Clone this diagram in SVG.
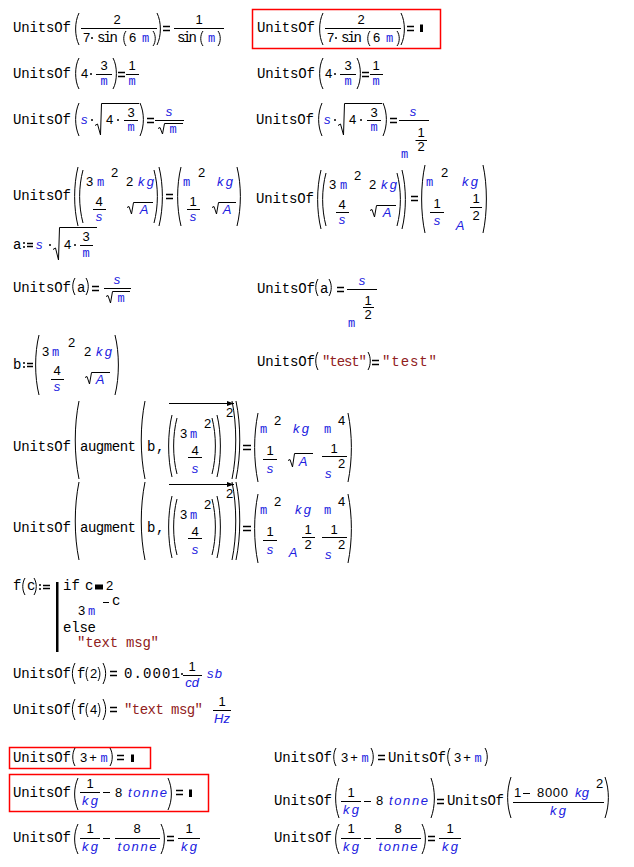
<svg xmlns="http://www.w3.org/2000/svg" width="634" height="867" viewBox="0 0 634 867">
<style>
.v{font-family:"Liberation Mono",monospace;font-size:14px;fill:#000}
.n{font-family:"Liberation Sans",Arial,sans-serif;font-size:13px;fill:#000}
.m{font-family:"Liberation Mono",monospace;font-size:12px;fill:#2020e0}
.u{font-family:"Liberation Sans",Arial,sans-serif;font-style:italic;font-size:13px;fill:#2020e0}
.s{font-family:"Liberation Mono",monospace;font-size:14px;fill:#902020}
.p{fill:none;stroke:#000;stroke-width:1}
.l{fill:none;stroke:#000;stroke-width:1}
.q{fill:none;stroke:#000;stroke-width:1.3}
.box{fill:none;stroke:#f00;stroke-width:1.5}
.c{text-anchor:middle}
</style>
<defs>
<marker id="ah" markerWidth="8" markerHeight="6" refX="7" refY="3" orient="auto" markerUnits="userSpaceOnUse"><path d="M0 0.5L7 3L0 5.5z" fill="#000"/></marker>
</defs>
<rect width="634" height="867" fill="#fff"/>

<g id="e1">
<text class="v" x="13" y="32" textLength="58">UnitsOf</text>
<path class="p" d="M79 13C74.5 22 74.5 36 79 45"/>
<text class="n c" x="117" y="24">2</text>
<path class="l" d="M81 28.5H157"/>
<text class="n" x="83" y="42">7</text>
<circle cx="92" cy="38" r="1"/>
<text class="v" x="97" y="42" textLength="21">sin</text>
<path class="p" d="M126 31C123 35 123 42 126 46"/>
<text class="n" x="129" y="42">6</text>
<text class="m" x="142" y="42">m</text>
<path class="p" d="M153 31C156 35 156 42 153 46"/>
<path class="p" d="M157 13C161.5 22 161.5 36 157 45"/>
<path class="q" d="M163 26.5h7M163 30.5h7"/>
<text class="n c" x="199" y="24">1</text>
<path class="l" d="M174 28.5H224"/>
<text class="v" x="177" y="42" textLength="20">sin</text>
<path class="p" d="M203 31C200 35 200 42 203 46"/>
<text class="m" x="208" y="42">m</text>
<path class="p" d="M218 31C221 35 221 42 218 46"/>
</g>

<g id="e2">
<rect class="box" x="252.5" y="9.5" width="188" height="39"/>
<g transform="translate(244,0)">
<text class="v" x="13" y="32" textLength="58">UnitsOf</text>
<path class="p" d="M79 13C74.5 22 74.5 36 79 45"/>
<text class="n c" x="117" y="24">2</text>
<path class="l" d="M81 28.5H157"/>
<text class="n" x="83" y="42">7</text>
<circle cx="92" cy="38" r="1"/>
<text class="v" x="97" y="42" textLength="21">sin</text>
<path class="p" d="M126 31C123 35 123 42 126 46"/>
<text class="n" x="129" y="42">6</text>
<text class="m" x="142" y="42">m</text>
<path class="p" d="M153 31C156 35 156 42 153 46"/>
<path class="p" d="M157 13C161.5 22 161.5 36 157 45"/>
<path class="q" d="M163 26.5h7M163 30.5h7"/>
</g>
<rect x="420" y="24.5" width="3" height="7.5" fill="#000"/>
</g>

<g id="e3">
<text class="v" x="13" y="78" textLength="58">UnitsOf</text>
<path class="p" d="M79 58C74.5 66 74.5 81 79 89"/>
<text class="n" x="81" y="78">4</text>
<circle cx="91" cy="74" r="1"/>
<text class="n c" x="104" y="70">3</text>
<path class="l" d="M96 74.5H112"/>
<text class="m c" x="104" y="85">m</text>
<path class="p" d="M113 58C117.5 66 117.5 81 113 89"/>
<path class="q" d="M118 72.5h7M118 76.5h7"/>
<text class="n c" x="132" y="70">1</text>
<path class="l" d="M126 74.5H139"/>
<text class="m c" x="132" y="85">m</text>
</g>

<g id="e4" transform="translate(244,0)">
<text class="v" x="13" y="78" textLength="58">UnitsOf</text>
<path class="p" d="M79 58C74.5 66 74.5 81 79 89"/>
<text class="n" x="81" y="78">4</text>
<circle cx="91" cy="74" r="1"/>
<text class="n c" x="104" y="70">3</text>
<path class="l" d="M96 74.5H112"/>
<text class="m c" x="104" y="85">m</text>
<path class="p" d="M113 58C117.5 66 117.5 81 113 89"/>
<path class="q" d="M118 72.5h7M118 76.5h7"/>
<text class="n c" x="132" y="70">1</text>
<path class="l" d="M126 74.5H139"/>
<text class="m c" x="132" y="85">m</text>
</g>

<g id="e5">
<text class="v" x="13" y="124" textLength="58">UnitsOf</text>
<path class="p" d="M79 103C74.5 113 74.5 126 79 136"/>
<text class="u" x="81" y="124">s</text>
<circle cx="92" cy="120" r="1"/>
<path class="l" d="M95 125.5L97.5 124L100.5 135L101.5 103.5H139"/>
<text class="n" x="106" y="124">4</text>
<circle cx="118" cy="120" r="1"/>
<text class="n c" x="131" y="117">3</text>
<path class="l" d="M124 120.5H138"/>
<text class="m c" x="131" y="131">m</text>
<path class="p" d="M140 103C144.5 113 144.5 126 140 136"/>
<path class="q" d="M147 118.5h7M147 122.5h7"/>
<text class="u c" x="169" y="116">s</text>
<path class="l" d="M155 120.5H184"/>
<path class="l" d="M158 128.5L160 127.5L162.5 134L164.5 123.5H183"/>
<text class="m c" x="173" y="133">m</text>
</g>

<g id="e6">
<g transform="translate(243,0)">
<text class="v" x="13" y="124" textLength="58">UnitsOf</text>
<path class="p" d="M79 103C74.5 113 74.5 126 79 136"/>
<text class="u" x="81" y="124">s</text>
<circle cx="92" cy="120" r="1"/>
<path class="l" d="M95 125.5L97.5 124L100.5 135L101.5 103.5H139"/>
<text class="n" x="106" y="124">4</text>
<circle cx="118" cy="120" r="1"/>
<text class="n c" x="131" y="117">3</text>
<path class="l" d="M124 120.5H138"/>
<text class="m c" x="131" y="131">m</text>
<path class="p" d="M140 103C144.5 113 144.5 126 140 136"/>
<path class="q" d="M147 118.5h7M147 122.5h7"/>
</g>
<text class="u c" x="413" y="116">s</text>
<path class="l" d="M399 120.5H429"/>
<text class="m" x="401" y="158">m</text>
<text class="n c" x="421" y="137">1</text>
<path class="l" d="M415.5 140.5H427"/>
<text class="n c" x="421" y="151">2</text>
</g>

<g id="e7">
<text class="v" x="13" y="200" textLength="58">UnitsOf</text>
<path class="p" d="M78 167C73.5 185 73.5 208 78 226"/>
<path class="p" d="M83 170C78.5 187 78.5 206 83 223"/>
<text class="n" x="86" y="186">3</text>
<text class="m" x="97" y="186">m</text>
<text class="n" x="111" y="177">2</text>
<text class="n" x="126" y="186">2</text>
<text class="u" x="138" y="186" textLength="16">kg</text>
<text class="n c" x="99" y="206">4</text>
<path class="l" d="M93 209.5H106"/>
<text class="u c" x="99" y="221">s</text>
<path class="l" d="M127 207.5L129 206.5L131.5 214L133.5 202.5H153"/>
<text class="u c" x="144" y="214">A</text>
<path class="p" d="M154 170C158.5 187 158.5 206 154 223"/>
<path class="p" d="M159 167C163.5 185 163.5 208 159 226"/>
<path class="q" d="M166 194.5h7M166 198.5h7"/>
<path class="p" d="M181 167C176.5 185 176.5 208 181 226"/>
<text class="m" x="183" y="186">m</text>
<text class="n" x="198" y="177">2</text>
<text class="u" x="217" y="186" textLength="16">kg</text>
<text class="n c" x="193" y="206">1</text>
<path class="l" d="M187 209.5H200"/>
<text class="u c" x="193" y="221">s</text>
<path class="l" d="M212 207.5L214 206.5L216.5 214L218.5 202.5H236"/>
<text class="u c" x="227" y="214">A</text>
<path class="p" d="M237 167C241.5 185 241.5 208 237 226"/>
</g>

<g id="e8">
<g transform="translate(243,3)">
<text class="v" x="13" y="200" textLength="58">UnitsOf</text>
<path class="p" d="M78 167C73.5 185 73.5 208 78 226"/>
<path class="p" d="M83 170C78.5 187 78.5 206 83 223"/>
<text class="n" x="86" y="186">3</text>
<text class="m" x="97" y="186">m</text>
<text class="n" x="111" y="177">2</text>
<text class="n" x="126" y="186">2</text>
<text class="u" x="138" y="186" textLength="16">kg</text>
<text class="n c" x="99" y="206">4</text>
<path class="l" d="M93 209.5H106"/>
<text class="u c" x="99" y="221">s</text>
<path class="l" d="M127 207.5L129 206.5L131.5 214L133.5 202.5H153"/>
<text class="u c" x="144" y="214">A</text>
<path class="p" d="M154 170C158.5 187 158.5 206 154 223"/>
<path class="p" d="M159 167C163.5 185 163.5 208 159 226"/>
</g>
<path class="q" d="M411 196.5h7M411 200.5h7"/>
<path class="p" d="M425 165C420.5 185 420.5 213 425 233"/>
<text class="m" x="426" y="186">m</text>
<text class="n" x="441" y="177">2</text>
<text class="u" x="462" y="186" textLength="16">kg</text>
<text class="n c" x="437" y="208">1</text>
<path class="l" d="M430 212.5H444"/>
<text class="u c" x="437" y="225">s</text>
<text class="u c" x="460" y="230">A</text>
<text class="n c" x="476" y="203">1</text>
<path class="l" d="M470 207.5H482"/>
<text class="n c" x="476" y="220">2</text>
<path class="p" d="M483 165C487.5 185 487.5 213 483 233"/>
</g>

<g id="e9">
<text class="v" x="13" y="249">a</text>
<circle cx="24" cy="243" r="1"/>
<circle cx="24" cy="247" r="1"/>
<path class="q" d="M27 243.5h6M27 246.5h6"/>
<text class="u" x="36" y="249">s</text>
<circle cx="50" cy="245" r="1"/>
<path class="l" d="M53 249.5L55.5 248L58.5 260L59.5 227.5H97"/>
<text class="n" x="64" y="249">4</text>
<circle cx="75" cy="245" r="1"/>
<text class="n c" x="86" y="241">3</text>
<path class="l" d="M80 245.5H93"/>
<text class="m c" x="86" y="257">m</text>
</g>

<g id="e10">
<text class="v" x="13" y="292" textLength="58">UnitsOf</text>
<path class="p" d="M75 278C72 283 72 290 75 295"/>
<text class="v" x="77" y="292">a</text>
<path class="p" d="M86 278C89 283 89 290 86 295"/>
<path class="q" d="M92 286.5h7M92 290.5h7"/>
<text class="u c" x="117" y="284">s</text>
<path class="l" d="M104 288.5H131"/>
<path class="l" d="M106 296.5L108 295.5L110.5 303L112.5 291.5H130"/>
<text class="m c" x="121" y="302">m</text>
</g>

<g id="e11">
<text class="v" x="257" y="293" textLength="58">UnitsOf</text>
<path class="p" d="M318 279C315 284 315 291 318 296"/>
<text class="v" x="320" y="293">a</text>
<path class="p" d="M329 279C332 284 332 291 329 296"/>
<path class="q" d="M337 287.5h7M337 291.5h7"/>
<text class="u c" x="362" y="285">s</text>
<path class="l" d="M347 289.5H377"/>
<text class="m" x="348" y="327">m</text>
<text class="n c" x="368" y="305">1</text>
<path class="l" d="M363 307.5H374"/>
<text class="n c" x="368" y="319">2</text>
</g>

<g id="e12">
<text class="v" x="13" y="369">b</text>
<circle cx="24" cy="363" r="1"/>
<circle cx="24" cy="367" r="1"/>
<path class="q" d="M27 363.5h6M27 366.5h6"/>
<path class="p" d="M39 335C34.5 353 34.5 377 39 395"/>
<text class="n" x="42" y="356">3</text>
<text class="m" x="52" y="356">m</text>
<text class="n" x="68" y="347">2</text>
<text class="n" x="84" y="356">2</text>
<text class="u" x="96" y="356" textLength="16">kg</text>
<text class="n c" x="57" y="375">4</text>
<path class="l" d="M51 379.5H64"/>
<text class="u c" x="57" y="391">s</text>
<path class="l" d="M85 377.5L87 376.5L89.5 384L91.5 372.5H110"/>
<text class="u c" x="100" y="384">A</text>
<path class="p" d="M115 335C119.5 353 119.5 377 115 395"/>
</g>

<g id="e13">
<text class="v" x="257" y="366" textLength="58">UnitsOf</text>
<path class="p" d="M318 352C315 357 315 365 318 370"/>
<text class="s" x="322" y="366" textLength="45">"test"</text>
<path class="p" d="M368 352C371 357 371 365 368 370"/>
<path class="q" d="M372 360.5h7M372 364.5h7"/>
<text class="s" x="382" y="366" textLength="55">"test"</text>
</g>

<g id="e14">
<text class="v" x="13" y="451" textLength="58">UnitsOf</text>
<path class="p" d="M79 401C74 425 74 455 79 479"/>
<text class="v" x="80" y="451" textLength="56">augment</text>
<path class="p" d="M145 401C140 425 140 455 145 479"/>
<text class="v" x="147" y="451">b</text>
<text class="v" x="156" y="451">,</text>
<path class="l" d="M169 403.5H234" marker-end="url(#ah)"/>
<path class="p" d="M172 415C167.5 433 167.5 459 172 477"/>
<path class="p" d="M177 418C172.5 435 172.5 457 177 474"/>
<text class="n" x="180" y="438">3</text>
<text class="m" x="190" y="438">m</text>
<text class="n" x="204" y="428">2</text>
<text class="n c" x="195" y="455">4</text>
<path class="l" d="M188 457.5H202"/>
<text class="u c" x="195" y="473">s</text>
<path class="p" d="M212 418C216.5 435 216.5 457 212 474"/>
<path class="p" d="M217 415C221.5 433 221.5 459 217 477"/>
<text class="n" x="226" y="417">2</text>
<path class="p" d="M232 401C237 425 237 455 232 479"/>
<path class="p" d="M236 401C241 425 241 455 236 479"/>
<path class="q" d="M243 445.5h8M243 449.5h8"/>
<path class="p" d="M258 413C253.5 435 253.5 460 258 482"/>
<text class="m" x="260" y="433">m</text>
<text class="n" x="274" y="425">2</text>
<text class="u" x="293" y="433" textLength="16">kg</text>
<text class="m" x="324" y="433">m</text>
<text class="n" x="338" y="425">4</text>
<text class="n c" x="270" y="455">1</text>
<path class="l" d="M263 459.5H277"/>
<text class="u c" x="270" y="473">s</text>
<path class="l" d="M288 460.5L290 459.5L292.5 467L294.5 453.5H313"/>
<text class="u c" x="303" y="466">A</text>
<text class="n c" x="334" y="453">1</text>
<path class="l" d="M322 456.5H347"/>
<text class="u" x="325" y="478">s</text>
<text class="n" x="338" y="468">2</text>
<path class="p" d="M348 413C352.5 435 352.5 460 348 482"/>
</g>

<g id="e15" transform="translate(0,81)">
<text class="v" x="13" y="451" textLength="58">UnitsOf</text>
<path class="p" d="M79 401C74 425 74 455 79 479"/>
<text class="v" x="80" y="451" textLength="56">augment</text>
<path class="p" d="M145 401C140 425 140 455 145 479"/>
<text class="v" x="147" y="451">b</text>
<text class="v" x="156" y="451">,</text>
<path class="l" d="M169 403.5H234" marker-end="url(#ah)"/>
<path class="p" d="M172 415C167.5 433 167.5 459 172 477"/>
<path class="p" d="M177 418C172.5 435 172.5 457 177 474"/>
<text class="n" x="180" y="438">3</text>
<text class="m" x="190" y="438">m</text>
<text class="n" x="204" y="428">2</text>
<text class="n c" x="195" y="455">4</text>
<path class="l" d="M188 457.5H202"/>
<text class="u c" x="195" y="473">s</text>
<path class="p" d="M212 418C216.5 435 216.5 457 212 474"/>
<path class="p" d="M217 415C221.5 433 221.5 459 217 477"/>
<text class="n" x="226" y="417">2</text>
<path class="p" d="M232 401C237 425 237 455 232 479"/>
<path class="p" d="M236 401C241 425 241 455 236 479"/>
<path class="q" d="M243 445.5h8M243 449.5h8"/>
<path class="p" d="M258 413C253.5 435 253.5 460 258 482"/>
<text class="m" x="260" y="433">m</text>
<text class="n" x="274" y="425">2</text>
<text class="u" x="295" y="433" textLength="16">kg</text>
<text class="m" x="324" y="433">m</text>
<text class="n" x="338" y="425">4</text>
<text class="n c" x="270" y="455">1</text>
<path class="l" d="M263 459.5H277"/>
<text class="u c" x="270" y="473">s</text>
<text class="u c" x="293" y="476">A</text>
<text class="n c" x="308" y="453">1</text>
<path class="l" d="M302 456.5H315"/>
<text class="n c" x="308" y="468">2</text>
<text class="n c" x="334" y="453">1</text>
<path class="l" d="M322 456.5H347"/>
<text class="u" x="325" y="478">s</text>
<text class="n" x="338" y="468">2</text>
<path class="p" d="M348 413C352.5 435 352.5 460 348 482"/>
</g>

<g id="e16">
<text class="v" x="13" y="590">f</text>
<path class="p" d="M25 578C22 583 22 590 25 595"/>
<text class="v" x="27" y="590">c</text>
<path class="p" d="M34 578C37 583 37 590 34 595"/>
<circle cx="40" cy="585" r="1"/>
<circle cx="40" cy="589" r="1"/>
<path class="q" d="M43 585.5h7M43 588.5h7"/>
<rect x="56" y="582" width="2.5" height="70" fill="#000"/>
<text class="v" x="63" y="590">if</text>
<text class="v" x="85" y="590">c</text>
<rect x="95" y="584.5" width="8" height="5" fill="#000"/>
<text class="n" x="106" y="590">2</text>
<text class="n" x="78" y="615">3</text>
<text class="m" x="88" y="615">m</text>
<path class="l" d="M103 602.5h6"/>
<text class="v" x="112" y="605">c</text>
<text class="v" x="63" y="632" textLength="33">else</text>
<text class="s" x="77" y="647" textLength="82">"text msg"</text>
</g>

<g id="e17">
<text class="v" x="13" y="678" textLength="58">UnitsOf</text>
<path class="p" d="M75 663C71.5 670 71.5 677 75 684"/>
<text class="v" x="77" y="678">f</text>
<path class="p" d="M88 667C85.5 671 85.5 677 88 681"/>
<text class="n" x="90" y="678">2</text>
<path class="p" d="M98 667C100.5 671 100.5 677 98 681"/>
<path class="p" d="M103 663C106.5 670 106.5 677 103 684"/>
<path class="q" d="M110 671.5h7M110 675.5h7"/>
<text class="v" x="124" y="678" textLength="56">0.0001</text>
<circle cx="182" cy="674" r="1"/>
<text class="n c" x="192" y="671">1</text>
<path class="l" d="M183 675.5H202"/>
<text class="u c" x="192" y="687">cd</text>
<text class="u" x="207" y="678" textLength="15">sb</text>
</g>

<g id="e18">
<text class="v" x="13" y="714" textLength="58">UnitsOf</text>
<path class="p" d="M75 699C71.5 706 71.5 713 75 720"/>
<text class="v" x="77" y="714">f</text>
<path class="p" d="M88 703C85.5 707 85.5 713 88 717"/>
<text class="n" x="90" y="714">4</text>
<path class="p" d="M98 703C100.5 707 100.5 713 98 717"/>
<path class="p" d="M103 699C106.5 706 106.5 713 103 720"/>
<path class="q" d="M110 707.5h7M110 711.5h7"/>
<text class="s" x="124" y="714" textLength="79">"text msg"</text>
<text class="n c" x="222" y="706">1</text>
<path class="l" d="M213 710.5H231"/>
<text class="u c" x="222" y="723">Hz</text>
</g>

<g id="e19">
<rect class="box" x="9.5" y="747.5" width="141" height="21"/>
<text class="v" x="13" y="762" textLength="58">UnitsOf</text>
<path class="p" d="M75 748C72 753 72 761 75 766"/>
<text class="n" x="80" y="762">3</text>
<text class="n c" x="93" y="762">+</text>
<text class="m c" x="104" y="762">m</text>
<path class="p" d="M110 748C113 753 113 761 110 766"/>
<path class="q" d="M117 755.5h7M117 759.5h7"/>
<rect x="131" y="754.5" width="3" height="7.5" fill="#000"/>
</g>

<g id="e20">
<rect class="box" x="9.5" y="774.5" width="199" height="37"/>
<text class="v" x="13" y="797" textLength="58">UnitsOf</text>
<path class="p" d="M78 778C73.5 788 73.5 800 78 810"/>
<text class="n c" x="90" y="788">1</text>
<path class="l" d="M80 792.5H100"/>
<text class="u c" x="90" y="805" textLength="16">kg</text>
<path class="l" d="M103 792.5h7"/>
<text class="n" x="115" y="797">8</text>
<text class="u" x="128" y="797" textLength="39">tonne</text>
<path class="p" d="M168 778C172.5 788 172.5 800 168 810"/>
<path class="q" d="M176 790.5h7M176 794.5h7"/>
<rect x="189" y="789.5" width="3" height="7.5" fill="#000"/>
</g>

<g id="e21">
<text class="v" x="13" y="842" textLength="58">UnitsOf</text>
<path class="p" d="M78 824C73.5 833 73.5 845 78 854"/>
<text class="n c" x="90" y="833">1</text>
<path class="l" d="M80 838.5H100"/>
<text class="u c" x="90" y="851" textLength="16">kg</text>
<path class="l" d="M103 838.5h7"/>
<text class="n c" x="137" y="833">8</text>
<path class="l" d="M115 838.5H160"/>
<text class="u c" x="137" y="851" textLength="39">tonne</text>
<path class="p" d="M161 824C165.5 833 165.5 845 161 854"/>
<path class="q" d="M167 836.5h7M167 840.5h7"/>
<text class="n c" x="189" y="833">1</text>
<path class="l" d="M178 838.5H200"/>
<text class="u c" x="189" y="851" textLength="16">kg</text>
</g>

<g id="e22">
<text class="v" x="274" y="762" textLength="58">UnitsOf</text>
<path class="p" d="M336 748C333 753 333 761 336 766"/>
<text class="n" x="341" y="762">3</text>
<text class="n c" x="354" y="762">+</text>
<text class="m c" x="365" y="762">m</text>
<path class="p" d="M371 748C374 753 374 761 371 766"/>
<path class="q" d="M378 755.5h7M378 759.5h7"/>
<text class="v" x="388" y="762" textLength="58">UnitsOf</text>
<path class="p" d="M450 748C447 753 447 761 450 766"/>
<text class="n" x="454" y="762">3</text>
<text class="n c" x="467" y="762">+</text>
<text class="m c" x="478" y="762">m</text>
<path class="p" d="M485 748C488 753 488 761 485 766"/>
</g>

<g id="e23">
<text class="v" x="274" y="805" textLength="58">UnitsOf</text>
<path class="p" d="M339 778C334.5 790 334.5 806 339 818"/>
<text class="n c" x="351" y="797">1</text>
<path class="l" d="M341 801.5H361"/>
<text class="u c" x="351" y="814" textLength="16">kg</text>
<path class="l" d="M364 801.5h7"/>
<text class="n" x="376" y="805">8</text>
<text class="u" x="389" y="805" textLength="39">tonne</text>
<path class="p" d="M431 778C435.5 790 435.5 806 431 818"/>
<path class="q" d="M437 799.5h7M437 803.5h7"/>
<text class="v" x="447" y="805" textLength="57">UnitsOf</text>
<path class="p" d="M511 777C506.5 790 506.5 805 511 818"/>
<text class="n" x="514" y="797">1</text>
<path class="l" d="M523 793.5h7"/>
<text class="n" x="537" y="797" textLength="31">8000</text>
<text class="u" x="575" y="797" textLength="14">kg</text>
<text class="n" x="596" y="788">2</text>
<path class="l" d="M513 802.5H604"/>
<text class="u c" x="558" y="815" textLength="16">kg</text>
<path class="p" d="M605 777C609.5 790 609.5 805 605 818"/>
</g>

<g id="e24" transform="translate(261,0)">
<text class="v" x="13" y="842" textLength="58">UnitsOf</text>
<path class="p" d="M78 824C73.5 833 73.5 845 78 854"/>
<text class="n c" x="90" y="833">1</text>
<path class="l" d="M80 838.5H100"/>
<text class="u c" x="90" y="851" textLength="16">kg</text>
<path class="l" d="M103 838.5h7"/>
<text class="n c" x="137" y="833">8</text>
<path class="l" d="M115 838.5H160"/>
<text class="u c" x="137" y="851" textLength="39">tonne</text>
<path class="p" d="M161 824C165.5 833 165.5 845 161 854"/>
<path class="q" d="M167 836.5h7M167 840.5h7"/>
<text class="n c" x="189" y="833">1</text>
<path class="l" d="M178 838.5H200"/>
<text class="u c" x="189" y="851" textLength="16">kg</text>
</g>
</svg>
